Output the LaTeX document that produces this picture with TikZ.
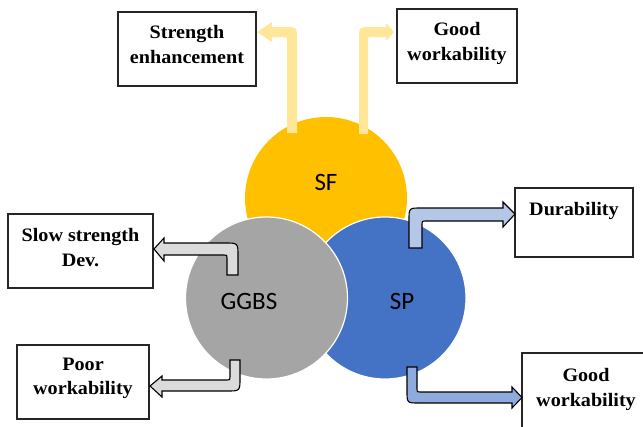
\documentclass[tikz,border=0pt]{standalone}
\usepackage{fontspec}
\setmainfont{Liberation Serif}[FakeStretch=1.06]
\newfontfamily\calib{Carlito}
\definecolor{sfc}{HTML}{FFC000}
\definecolor{spc}{HTML}{4472C4}
\definecolor{ggc}{HTML}{A5A5A5}
\definecolor{yarr}{HTML}{FFE699}
\definecolor{garr}{HTML}{DBDBDB}
\definecolor{barrA}{HTML}{B4C7E7}
\definecolor{barrB}{HTML}{8FAADC}
\begin{document}
\begin{tikzpicture}[x=1pt,y=-1pt,
  ball/.style={circle, minimum size=162pt, inner sep=0pt, draw=white, line width=1.2pt},
  lbl/.style={font=\calib\fontsize{25}{29}\selectfont, inner sep=0pt},
  box/.style={draw=black!85, line width=1.1pt, fill=white, inner sep=0pt},
  btext/.style={font=\bfseries\fontsize{19}{24.5}\selectfont, align=center, inner sep=0pt, anchor=north},
  yarrow/.style={fill=yarr},
  oarrow/.style={draw=black, line width=1.1pt, line join=miter}
]
\useasboundingbox (0,0) rectangle (643,426);

% circles
\node[ball, fill=sfc, draw=none] (sf) at (326,198) {};
\node[ball, fill=spc] (sp) at (385,298) {};
\node[ball, fill=ggc] (gg) at (266.5,298) {};
\node[lbl] (sfl) at (326,182) {SF};
\node[lbl] (spl) at (402,301) {SP};
\node[lbl] (ggl) at (249,301) {GGBS};

% boxes
\node[box, minimum width=138pt, minimum height=74pt] (b1) at (187,49) {};
\node[box, minimum width=120pt, minimum height=74pt] (b2) at (457,46) {};
\node[box, minimum width=145pt, minimum height=74pt] (b3) at (80.5,251) {};
\node[box, minimum width=132pt, minimum height=74pt] (b4) at (83,382) {};
\node[box, minimum width=118pt, minimum height=69pt] (b5) at (574,222.5) {};
\node[box, minimum width=128pt, minimum height=87pt] (b6) at (586,396.5) {};

\node[btext] (t1) at ([yshift=-14pt]b1.north) {Strength\\enhancement};
\node[btext] (t2) at ([yshift=-14pt]b2.north) {Good\\workability};
\node[btext] (t3) at ([yshift=-15pt]b3.north) {Slow strength\\Dev.};
\node[btext] (t4) at ([yshift=-13pt]b4.north) {Poor\\workability};
\node[btext] (t5) at ([yshift=-15pt]b5.north) {Durability};
\node[btext] (t6) at ([yshift=-16pt]b6.north) {Good\\workability};

% yellow arrows
\fill[yarrow] (287,133) -- (297,133) -- (297,39) .. controls (297,27) .. (285,27) -- (272,27) -- (272,22) -- (257,32) -- (272,42) -- (272,37) -- (284,37) .. controls (287,37) .. (287,40) -- cycle;
\fill[yarrow] (368,134) -- (359,134) -- (359,39) .. controls (359,27) .. (371,27) -- (386,27) -- (386,23) -- (394,32) -- (386,41) -- (386,37) -- (371,37) .. controls (368,37) .. (368,40) -- cycle;

% gray arrows
\filldraw[oarrow, fill=garr] (227,275) -- (238,275) -- (238,256) .. controls (238,243) .. (225,243) -- (164,243) -- (164,238) -- (154,249) -- (164,261) -- (164,255) -- (224,255) .. controls (227,255) .. (227,258) -- cycle;
\filldraw[oarrow, fill=garr] (230,360) -- (240,360) -- (240,378) .. controls (240,391) .. (227,391) -- (162,391) -- (162,397) -- (150,386) -- (162,376) -- (162,380) -- (227,380) .. controls (230,380) .. (230,377) -- cycle;

% blue arrows
\filldraw[oarrow, fill=barrA] (409,248) -- (422,248) -- (422,224) .. controls (422,221) .. (425,221) -- (503,221) -- (503,227) -- (515,214) -- (503,202) -- (503,208) -- (421,208) .. controls (409,208) .. (409,220) -- cycle;
\filldraw[oarrow, fill=barrB] (407,367) -- (417,367) -- (417,389) .. controls (417,392) .. (420,392) -- (512,392) -- (512,387) -- (522,397.5) -- (512,408) -- (512,403) -- (419,403) .. controls (407,403) .. (407,391) -- cycle;
\end{tikzpicture}
\end{document}
